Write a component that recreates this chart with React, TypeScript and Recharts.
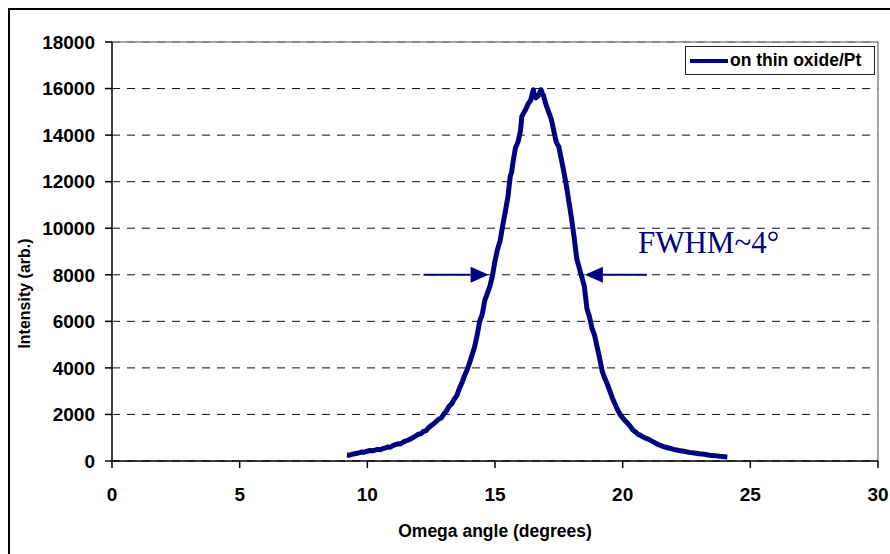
import React from "react";
import {
  LineChart,
  Line,
  XAxis,
  YAxis,
  CartesianGrid,
  ReferenceLine,
  ReferenceDot,
  Legend,
} from "recharts";

const omega = [
  9.2, 9.3, 9.4, 9.5, 9.6, 9.7, 9.8, 9.9, 10.0, 10.1, 10.2, 10.3, 10.4, 10.5, 10.6, 10.7,
  10.8, 10.9, 11.0, 11.1, 11.2, 11.3, 11.4, 11.5, 11.6, 11.7, 11.8, 11.9, 12.0, 12.1,
  12.2, 12.3, 12.4, 12.5, 12.6, 12.7, 12.8, 12.9, 13.0, 13.1, 13.2, 13.3, 13.4, 13.5,
  13.6, 13.7, 13.8, 13.9, 14.0, 14.1, 14.2, 14.3, 14.4, 14.5, 14.6, 14.7, 14.8, 14.9,
  15.0, 15.1, 15.2, 15.3, 15.4, 15.5, 15.6, 15.65, 15.7, 15.8, 15.9, 16.0, 16.05, 16.1,
  16.2, 16.3, 16.4, 16.5, 16.55, 16.6, 16.7, 16.8, 16.85, 16.9, 17.0, 17.1, 17.2, 17.3,
  17.4, 17.5, 17.6, 17.7, 17.8, 17.9, 18.0, 18.1, 18.2, 18.3, 18.4, 18.5, 18.6, 18.7,
  18.8, 18.9, 19.0, 19.1, 19.2, 19.3, 19.4, 19.5, 19.6, 19.7, 19.8, 19.9, 20.0, 20.1,
  20.2, 20.3, 20.4, 20.5, 20.6, 20.7, 20.8, 20.9, 21.0, 21.2, 21.4, 21.6, 21.8, 22.0,
  22.2, 22.4, 22.6, 22.8, 23.0, 23.2, 23.4, 23.6, 23.8, 24.0, 24.1,
];

const intensity = [
  260, 250, 290, 310, 330, 360, 390, 380, 420, 450, 440, 470, 500, 480, 530, 560,
  600, 590, 660, 700, 740, 730, 810, 860, 900, 950, 1010, 1080, 1150, 1170,
  1270, 1300, 1430, 1520, 1600, 1700, 1800, 1850, 2020, 2150, 2350, 2450, 2650, 2800,
  3100, 3350, 3650, 3900, 4200, 4550, 4900, 5400, 6000, 6300, 6900, 7200, 7500, 7950,
  8600, 9100, 9450, 10100, 10700, 11300, 12250, 12400, 12800, 13450, 13700, 14200, 14800, 14900,
  15100, 15350, 15500, 15950, 15650, 15600, 15700, 15950, 15800, 15700, 15300, 15000, 14700, 14200,
  13700, 13500, 12950, 12400, 11800, 11100, 10400, 9600, 8700, 8300, 7900, 7500, 6550, 6200,
  5700, 5400, 4900, 4400, 3850, 3550, 3300, 3000, 2700, 2450, 2200, 2000, 1850, 1720,
  1620, 1480, 1330, 1250, 1150, 1100, 1030, 980, 940, 820, 700, 620, 560, 500,
  450, 420, 370, 340, 310, 290, 250, 230, 200, 180, 170,
];

const xTicks = [0, 5, 10, 15, 20, 25, 30];
const yTicks = [0, 2000, 4000, 6000, 8000, 10000, 12000, 14000, 16000, 18000];

// arrows marking the half maximum: [tail, tip]
const leftArrow = [
  { x: 12.2, y: 8000 },
  { x: 14.75, y: 8000 },
];
const rightArrow = [
  { x: 20.95, y: 8000 },
  { x: 18.52, y: 8000 },
];
const fwhmLabel = { x: 20.6, y: 8950, text: "FWHM~4\u00b0" };

const seriesName = "on thin oxide/Pt";

const data = omega.map((x, i) => ({ x, y: intensity[i] }));

const NAVY = "#000080";
const FONT = "'Liberation Sans', Arial, sans-serif";

function Arrow(props: any) {
  const { x1, y1, x2, y2 } = props;
  const dir = x2 > x1 ? 1 : -1;
  const head = 18;
  const half = 8;
  return (
    <g>
      <line x1={x1} y1={y1} x2={x2 - dir * head} y2={y2} stroke={NAVY} strokeWidth={2} />
      <polygon
        points={`${x2},${y2} ${x2 - dir * head},${y2 - half} ${x2 - dir * head},${y2 + half}`}
        fill={NAVY}
      />
    </g>
  );
}

function LegendBox() {
  return (
    <div
      style={{
        width: 190,
        height: 29,
        boxSizing: "border-box",
        border: "1px solid #222",
        background: "#fff",
        display: "flex",
        alignItems: "center",
        paddingLeft: 4,
        fontFamily: FONT,
        fontWeight: "bold",
        fontSize: 17.5,
        color: "#000",
        whiteSpace: "nowrap",
      }}
    >
      <span style={{ display: "inline-block", width: 38, height: 4, background: NAVY, marginRight: 2 }} />
      <span>{seriesName}</span>
    </div>
  );
}

export default function App() {
  const tickStyle = { fill: "#000", fontSize: 19, fontWeight: "bold", fontFamily: FONT };
  return (
    <div style={{ position: "fixed", left: 0, top: 0, width: 890, height: 554, overflow: "hidden", background: "#fff" }}>
      <div
        style={{
          position: "absolute",
          left: 8,
          top: 8,
          width: 1000,
          height: 1000,
          border: "2px solid #000",
        }}
      />
      <div style={{ position: "absolute", left: 0, top: 0 }}>
        <LineChart width={890} height={554} data={data} margin={{ top: 42, right: 12, bottom: 0, left: 12 }}>
          <CartesianGrid vertical={false} stroke="#111" strokeDasharray="8 7" />
          <XAxis
            dataKey="x"
            type="number"
            domain={[0, 30]}
            ticks={xTicks}
            height={93}
            tickSize={7}
            tickMargin={20}
            tick={tickStyle}
            axisLine={{ stroke: "#000", strokeWidth: 1.5 }}
            tickLine={{ stroke: "#000", strokeWidth: 1.5 }}
            label={{
              value: "Omega angle (degrees)",
              position: "insideBottom",
              offset: 17,
              style: { fill: "#000", fontSize: 17.5, fontWeight: "bold", fontFamily: FONT },
            }}
          />
          <YAxis
            type="number"
            domain={[0, 18000]}
            ticks={yTicks}
            width={100}
            tickSize={7}
            tickMargin={10}
            tick={tickStyle}
            axisLine={{ stroke: "#000", strokeWidth: 1.5 }}
            tickLine={{ stroke: "#000", strokeWidth: 1.5 }}
            label={{
              content: (p: any) => {
                const vb = p.viewBox || { x: 12, y: 42, width: 100, height: 419 };
                const cx = vb.x + 18;
                const cy = vb.y + vb.height / 2 + 42;
                return (
                  <text
                    x={cx}
                    y={cy}
                    transform={`rotate(-90 ${cx} ${cy})`}
                    textAnchor="middle"
                    fill="#000"
                    fontSize={16}
                    fontWeight="bold"
                    fontFamily={FONT}
                  >
                    Intensity (arb.)
                  </text>
                );
              },
            }}
          />
          <ReferenceLine y={18000} stroke="#888" strokeWidth={1.5} />
          <ReferenceLine x={30} stroke="#888" strokeWidth={1.5} />
          <Legend
            layout="horizontal"
            verticalAlign="middle"
            align="center"
            content={() => <LegendBox />}
            wrapperStyle={{ left: 685, top: 46, width: 190 }}
          />
          <Line
            name={seriesName}
            dataKey="y"
            type="linear"
            stroke={NAVY}
            strokeWidth={5}
            strokeLinejoin="round"
            dot={false}
            isAnimationActive={false}
          />
          <ReferenceLine segment={leftArrow} shape={Arrow} />
          <ReferenceLine segment={rightArrow} shape={Arrow} />
          <ReferenceDot
            x={fwhmLabel.x}
            y={fwhmLabel.y}
            r={0}
            shape={(p: any) => (
              <text x={p.cx} y={p.cy} fill={NAVY} fontSize={31} fontFamily="'Liberation Serif', 'Times New Roman', serif">
                {fwhmLabel.text}
              </text>
            )}
          />
        </LineChart>
      </div>
    </div>
  );
}
